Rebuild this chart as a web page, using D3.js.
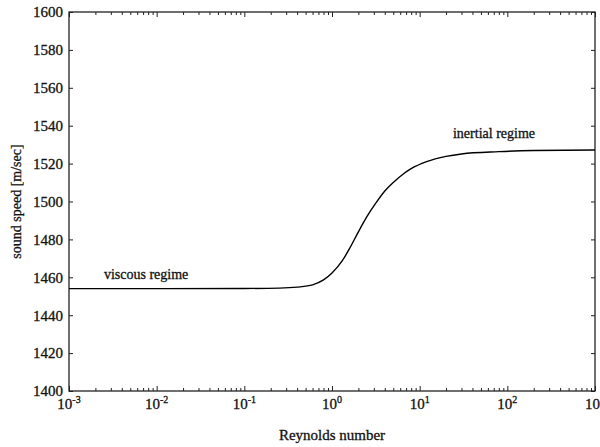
<!DOCTYPE html>
<html>
<head>
<meta charset="utf-8">
<script src="https://cdn.jsdelivr.net/npm/d3@7/dist/d3.min.js"></script>
<style>
  html, body { margin: 0; padding: 0; background: #fff; }
  svg { display: block; }
  text { font-family: "Liberation Serif", "DejaVu Serif", serif; fill: #111; }
</style>
</head>
<body>
<svg id="chart" width="600" height="447"></svg>
<script>
// ---- data ----
const reynolds = [0.001, 0.01, 0.1, 0.25, 0.4, 0.6, 0.8, 1.0, 1.3, 1.6, 2.0, 2.5, 3.2, 4.0, 5.0, 6.5, 8.0, 12, 20, 30, 80, 200, 1000];
const soundSpeed = [1454, 1454, 1454.1, 1454.3, 1454.8, 1456, 1458.6, 1462.3, 1468.5, 1475.5, 1484, 1492, 1499.5, 1505.5, 1510, 1514.5, 1517.3, 1521, 1523.8, 1525.1, 1526.3, 1526.9, 1527.2];
const xMajorTicks = [0.001, 0.01, 0.1, 1, 10, 100, 1000];
const xMajorExp = ["-3", "-2", "-1", "0", "1", "2", "3"];
const yTicks = [1400, 1420, 1440, 1460, 1480, 1500, 1520, 1540, 1560, 1580, 1600];
const annotations = [
  { label: "viscous regime", re: 0.0025, v: 1459 },
  { label: "inertial regime", re: 24, v: 1533.5 }
];
const xTitle = "Reynolds number";
const yTitle = "sound speed [m/sec]";

// ---- layout ----
const L = 69, R = 595, T = 12, B = 391;
const svg = d3.select("#chart");
const x = d3.scaleLog().domain([1e-3, 1e3]).range([L, R]);
const y = d3.scaleLinear().domain([1400, 1600]).range([B, T]);

const minorTicks = [];
for (let e = -3; e < 3; e++) for (let m = 2; m <= 9; m++) minorTicks.push(m * Math.pow(10, e));

const axisColor = "#222";
function styleAxis(g) {
  g.select(".domain").remove();
  g.selectAll(".tick line").attr("stroke", axisColor).attr("stroke-width", 1);
}

// bottom & top ticks (inward)
svg.append("g").attr("transform", `translate(0,${B})`)
  .call(d3.axisBottom(x).tickValues(minorTicks).tickSize(-3).tickFormat("")).call(styleAxis);
svg.append("g").attr("transform", `translate(0,${B})`)
  .call(d3.axisBottom(x).tickValues(xMajorTicks).tickSize(-5).tickFormat("")).call(styleAxis);
svg.append("g").attr("transform", `translate(0,${T})`)
  .call(d3.axisTop(x).tickValues(minorTicks).tickSize(-3).tickFormat("")).call(styleAxis);
svg.append("g").attr("transform", `translate(0,${T})`)
  .call(d3.axisTop(x).tickValues(xMajorTicks).tickSize(-5).tickFormat("")).call(styleAxis);

// left & right ticks (inward)
const yl = svg.append("g").attr("transform", `translate(${L},0)`)
  .call(d3.axisLeft(y).tickValues(yTicks).tickSize(-4).tickPadding(6).tickFormat(d3.format("d")));
yl.select(".domain").remove();
yl.selectAll(".tick line").attr("stroke", axisColor);
yl.selectAll(".tick text").attr("font-size", 15).attr("fill", "#111")
  .attr("stroke", "#111").attr("stroke-width", 0.3)
  .style("font-family", '"Liberation Serif", serif');
svg.append("g").attr("transform", `translate(${R},0)`)
  .call(d3.axisRight(y).tickValues(yTicks).tickSize(-4).tickFormat("")).call(styleAxis);

// frame
svg.append("rect").attr("x", L).attr("y", T).attr("width", R - L).attr("height", B - T)
  .attr("fill", "none").attr("stroke", axisColor).attr("stroke-width", 1.3);

// x tick labels with superscripts
const xl = svg.append("g");
xMajorTicks.forEach((t, i) => {
  const txt = xl.append("text").attr("x", x(t)).attr("y", B + 18)
    .attr("text-anchor", "middle").attr("font-size", 15)
    .attr("stroke", "#111").attr("stroke-width", 0.3);
  txt.append("tspan").text("10");
  txt.append("tspan").attr("font-size", 10).attr("dy", -6).text(xMajorExp[i]);
});

// curve
const pts = reynolds.map((r, i) => [r, soundSpeed[i]]);
svg.append("path").datum(pts)
  .attr("fill", "none").attr("stroke", "#000").attr("stroke-width", 1.4)
  .attr("d", d3.line().x(d => x(d[0])).y(d => y(d[1])).curve(d3.curveMonotoneX));

// annotations
annotations.forEach(a => {
  svg.append("text").attr("x", x(a.re)).attr("y", y(a.v))
    .attr("font-size", 14).attr("stroke", "#111").attr("stroke-width", 0.3).text(a.label);
});

// titles
svg.append("text").attr("x", (L + R) / 2).attr("y", 440).attr("text-anchor", "middle")
  .attr("font-size", 15).attr("stroke", "#111").attr("stroke-width", 0.3).text(xTitle);
svg.append("text").attr("transform", `translate(21,${(T + B) / 2}) rotate(-90)`)
  .attr("text-anchor", "middle").attr("font-size", 14)
  .attr("stroke", "#111").attr("stroke-width", 0.3).text(yTitle);
</script>
</body>
</html>
